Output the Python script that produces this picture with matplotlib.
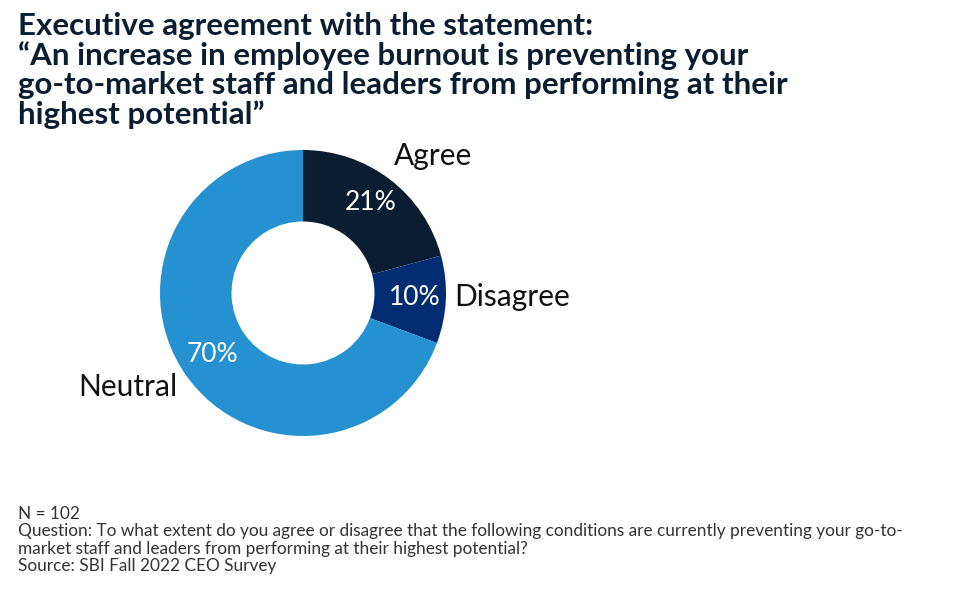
import matplotlib
matplotlib.use("Agg")
import matplotlib.pyplot as plt

plt.rcParams['font.family'] = ['Lato', 'DejaVu Sans']

categories = ["Agree", "Disagree", "Neutral"]
values = [21, 10, 70]
colors = ["#0b1e31", "#032d73", "#2591d0"]

fig = plt.figure(figsize=(9.57, 5.94), dpi=100)
W, H = 957, 594
cx, cy, r = 303, 293, 143
ax = fig.add_axes([(cx - r) / W, (H - cy - r) / H, 2 * r / W, 2 * r / H])
ax.pie(values, colors=colors, startangle=90, counterclock=False,
       wedgeprops=dict(width=0.5, edgecolor="white", linewidth=0))
ax.set_xlim(-1, 1); ax.set_ylim(-1, 1); ax.set_aspect("equal"); ax.axis("off")

pct_pos = [(0.47, 0.63), (0.78, -0.03), (-0.63, -0.43)]
lab_pos = [(0.91, 0.96, "center"), (1.06, -0.03, "left"), (-0.88, -0.66, "right")]
for v, (px, py), (lx, ly, ha), name in zip(values, pct_pos, lab_pos, categories):
    ax.text(px, py, f"{v}%", color="white", fontsize=19, ha="center", va="center")
    ax.text(lx, ly, name, color="#111111", fontsize=21.5, ha=ha, va="center")

fig.text(18 / W, 1 - 12 / H,
         "Executive agreement with the statement:\n\u201cAn increase in employee burnout is preventing your\n"
         "go-to-market staff and leaders from performing at their\nhighest potential\u201d",
         fontsize=22.5, fontweight="bold", color="#0b1e31", va="top", ha="left", linespacing=1.05)
fig.text(18 / W, 1 - 506 / H,
         "N = 102\nQuestion: To what extent do you agree or disagree that the following conditions are currently preventing your go-to-\n"
         "market staff and leaders from performing at their highest potential?\nSource: SBI Fall 2022 CEO Survey",
         fontsize=12.4, color="#333333", va="top", ha="left", linespacing=1.1)

fig.savefig("out.png", dpi=100)
